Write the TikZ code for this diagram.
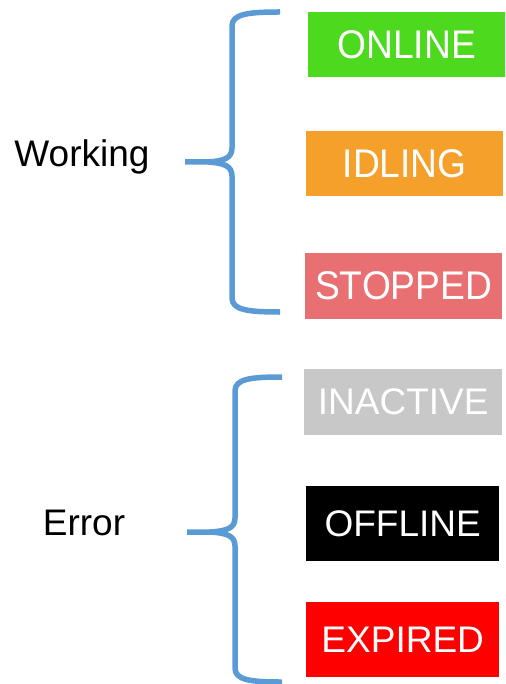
\documentclass[tikz,border=0pt]{standalone}
\usepackage{fontspec}
\setmainfont{Liberation Sans}
\definecolor{braceblue}{RGB}{91,155,213}
\definecolor{cgreen}{RGB}{76,217,30}
\definecolor{corange}{RGB}{245,160,42}
\definecolor{cred}{RGB}{232,112,114}
\definecolor{cgray}{RGB}{200,200,200}
\definecolor{cexp}{RGB}{255,0,0}
\begin{document}
\begin{tikzpicture}[x=1pt,y=-1pt,
  status/.style={rectangle, inner sep=0pt, anchor=north west, text=white, font=\fontsize{40}{40}\selectfont},
  statusb/.style={status, font=\fontsize{37}{37}\selectfont},
  label/.style={inner sep=0pt, font=\fontsize{37}{37}\selectfont},
  bracepath/.style={draw=braceblue, line width=5.5pt, line join=round, line cap=butt}]
\useasboundingbox (0,0) rectangle (505,684);
% status boxes
\node[status, fill=cgreen, minimum width=197pt, minimum height=65pt] (online) at (308,12) {\scalebox{0.93}[1]{ONLINE}};
\node[status, fill=corange, minimum width=197pt, minimum height=65pt] (idling) at (306,131) {\scalebox{0.93}[1]{IDLING}};
\node[status, fill=cred, minimum width=197pt, minimum height=66pt] (stopped) at (305,253) {\scalebox{0.93}[1]{STOPPED}};
\node[statusb, fill=cgray, minimum width=198pt, minimum height=66pt] (inactive) at (304,369) {INACTIVE};
\node[statusb, fill=black, minimum width=193pt, minimum height=75pt] (offline) at (306,486) {OFFLINE};
\node[statusb, fill=cexp, minimum width=193pt, minimum height=75pt] (expired) at (306,602) {EXPIRED};
% labels
\node[label] (working) at (82,157) {Working};
\node[label] (error) at (84,523) {Error};
% braces
\coordinate (w1) at (280,12);
\coordinate (w2) at (185,162);
\coordinate (w3) at (280,312);
\draw[bracepath] (w1) .. controls (248,12) and (232,14) .. (232,26)
  -- (232,148) .. controls (232,158) and (224,161) .. (208,162) -- (w2)
  (208,162) .. controls (224,163) and (232,166) .. (232,176)
  -- (232,298) .. controls (232,310) and (248,312) .. (w3);
\coordinate (e1) at (282,377);
\coordinate (e2) at (187,532);
\coordinate (e3) at (282,682);
\draw[bracepath] (e1) .. controls (250,377) and (235,379) .. (235,391)
  -- (235,518) .. controls (235,528) and (227,531) .. (210,532) -- (e2)
  (210,532) .. controls (227,533) and (235,536) .. (235,546)
  -- (235,668) .. controls (235,680) and (250,682) .. (e3);
\end{tikzpicture}
\end{document}
